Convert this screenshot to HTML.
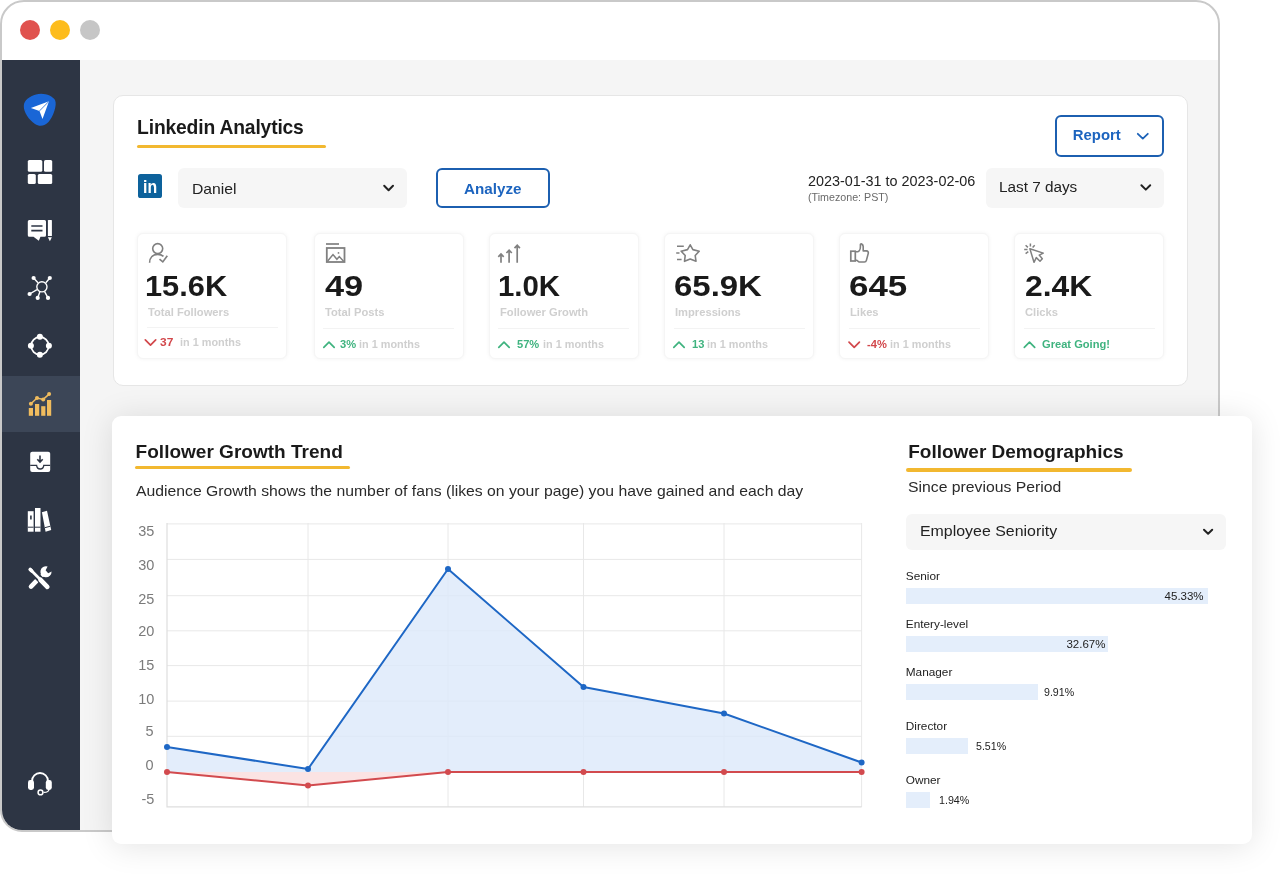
<!DOCTYPE html>
<html lang="en">
<head>
<meta charset="utf-8">
<title>Linkedin Analytics</title>
<style>
*{box-sizing:border-box;margin:0;padding:0}
html,body{width:1282px;height:874px;background:#fff;overflow:hidden}
body{position:relative;font-family:"Liberation Sans",sans-serif;color:#1c1c1c}
.abs{position:absolute}
.win{position:absolute;left:0;top:0;width:1220px;height:832px;border:2px solid #c9c9c9;border-radius:24px 24px 4px 22px;background:#fff;overflow:hidden}
.dot{position:absolute;top:18px;width:20px;height:20px;border-radius:50%}
.side{position:absolute;left:0;top:58px;width:78px;height:772px;background:#2d3544}
.main{position:absolute;left:78px;top:58px;width:1140px;height:772px;background:#f5f5f5}
.active{position:absolute;left:0;top:316px;width:78px;height:56px;background:#3c4657}
.card{position:absolute;background:#fff;border:1.3px solid #e6e6e6;border-radius:10px}
.ul{position:absolute;height:3px;background:#f2b830;border-radius:2px}
.sel{position:absolute;background:#f6f6f6;border-radius:6px}
.t{position:absolute;white-space:nowrap;line-height:20px}
.stat{position:absolute;top:232.6px;width:150px;height:126px;background:#fff;border:1.5px solid #f5f5f5;border-radius:6px;box-shadow:0 0 4px rgba(0,0,0,.05)}
.hr{position:absolute;height:1.4px;background:#f3f3f3}
.low{position:absolute;left:112px;top:416px;width:1140px;height:428px;background:#fff;border-radius:9px;box-shadow:0 2px 32px rgba(0,0,0,.115)}
.bar{position:absolute;left:906px;height:16px;background:#e4eefb}
.btn{position:absolute;border:2px solid #1c5fb0;border-radius:6px;background:#fff}
</style>
</head>
<body>
<div class="win">
  <div class="dot" style="left:18px;background:#e0524e"></div>
  <div class="dot" style="left:48px;background:#fdbc1c"></div>
  <div class="dot" style="left:78px;background:#c6c6c6"></div>
  <div class="main"></div>
  <div class="side"><div class="active"></div></div>
</div>
<div class="card" style="left:113px;top:95px;width:1075px;height:290.5px"></div>
<div class="t" style="left:137.1px;top:117.61px;font-size:19.3px;color:#1a1a1a;font-weight:bold;letter-spacing:-0.17px;">Linkedin Analytics</div>
<div class="ul" style="left:137px;top:144.5px;width:189px;height:3px"></div>
<div class="sel" style="left:178px;top:168px;width:229px;height:40px"></div>
<div class="t" style="left:192.2px;top:178.94px;font-size:14.6px;color:#222;transform:scaleX(1.078);transform-origin:0 50%;">Daniel</div>
<div class="btn" style="left:436px;top:167.8px;width:114px;height:40px"></div>
<div class="t" style="left:463.7px;top:178.88px;font-size:14.5px;color:#1c64bf;font-weight:bold;transform:scaleX(1.05);transform-origin:0 50%;">Analyze</div>
<div class="btn" style="left:1055px;top:115px;width:109px;height:41.5px"></div>
<div class="t" style="left:1072.8px;top:124.84px;font-size:14.9px;color:#1c64bf;font-weight:bold;">Report</div>
<div class="t" style="left:808px;top:171.41px;font-size:14.4px;color:#222;">2023-01-31 to 2023-02-06</div>
<div class="t" style="left:808px;top:187.29px;font-size:10.7px;color:#6a6a6a;">(Timezone: PST)</div>
<div class="sel" style="left:986px;top:168px;width:178px;height:40px"></div>
<div class="t" style="left:999px;top:177.30px;font-size:15.3px;color:#222;">Last 7 days</div>
<div class="stat" style="left:137px"></div>
<div class="hr" style="left:146.5px;top:326.7px;width:131px"></div>
<div class="t" style="left:144.716px;top:275.94px;font-size:29.6px;color:#1a1a1a;font-weight:bold;transform:scaleX(1.04);transform-origin:0 50%;">15.6K</div>
<div class="t" style="left:147.9px;top:302.70px;font-size:10.4px;color:#cfcfcf;font-weight:bold;transform:scaleX(1.075);transform-origin:0 50%;">Total Followers</div>
<div class="t" style="left:160.2px;top:332.70px;font-size:10.4px;color:#d2474b;font-weight:bold;transform:scaleX(1.15);transform-origin:0 50%;">37</div>
<div class="t" style="left:180.2px;top:332.73px;font-size:10.3px;color:#cfcfcf;font-weight:bold;transform:scaleX(1.055);transform-origin:0 50%;">in 1 months</div>
<div class="stat" style="left:313.6px"></div>
<div class="hr" style="left:323.1px;top:327.8px;width:131px"></div>
<div class="t" style="left:324.784px;top:275.94px;font-size:29.6px;color:#1a1a1a;font-weight:bold;transform:scaleX(1.16);transform-origin:0 50%;">49</div>
<div class="t" style="left:325px;top:302.70px;font-size:10.4px;color:#cfcfcf;font-weight:bold;transform:scaleX(1.075);transform-origin:0 50%;">Total Posts</div>
<div class="t" style="left:339.6px;top:334.90px;font-size:10.4px;color:#3fb37f;font-weight:bold;transform:scaleX(1.07);transform-origin:0 50%;">3%</div>
<div class="t" style="left:358.8px;top:334.93px;font-size:10.3px;color:#cfcfcf;font-weight:bold;transform:scaleX(1.055);transform-origin:0 50%;">in 1 months</div>
<div class="stat" style="left:488.8px"></div>
<div class="hr" style="left:498.3px;top:327.8px;width:131px"></div>
<div class="t" style="left:498.014px;top:275.94px;font-size:29.6px;color:#1a1a1a;font-weight:bold;transform:scaleX(0.993);transform-origin:0 50%;">1.0K</div>
<div class="t" style="left:500px;top:302.70px;font-size:10.4px;color:#cfcfcf;font-weight:bold;transform:scaleX(1.075);transform-origin:0 50%;">Follower Growth</div>
<div class="t" style="left:516.6px;top:334.90px;font-size:10.4px;color:#3fb37f;font-weight:bold;transform:scaleX(1.07);transform-origin:0 50%;">57%</div>
<div class="t" style="left:542.5px;top:334.93px;font-size:10.3px;color:#cfcfcf;font-weight:bold;transform:scaleX(1.055);transform-origin:0 50%;">in 1 months</div>
<div class="stat" style="left:664px"></div>
<div class="hr" style="left:673.5px;top:327.8px;width:131px"></div>
<div class="t" style="left:673.887px;top:275.94px;font-size:29.6px;color:#1a1a1a;font-weight:bold;transform:scaleX(1.113);transform-origin:0 50%;">65.9K</div>
<div class="t" style="left:675px;top:302.70px;font-size:10.4px;color:#cfcfcf;font-weight:bold;transform:scaleX(1.075);transform-origin:0 50%;">Impressions</div>
<div class="t" style="left:691.6px;top:334.90px;font-size:10.4px;color:#3fb37f;font-weight:bold;transform:scaleX(1.07);transform-origin:0 50%;">13</div>
<div class="t" style="left:706.6px;top:334.93px;font-size:10.3px;color:#cfcfcf;font-weight:bold;transform:scaleX(1.055);transform-origin:0 50%;">in 1 months</div>
<div class="stat" style="left:839px"></div>
<div class="hr" style="left:848.5px;top:327.8px;width:131px"></div>
<div class="t" style="left:848.82px;top:275.94px;font-size:29.6px;color:#1a1a1a;font-weight:bold;transform:scaleX(1.18);transform-origin:0 50%;">645</div>
<div class="t" style="left:850px;top:302.70px;font-size:10.4px;color:#cfcfcf;font-weight:bold;transform:scaleX(1.075);transform-origin:0 50%;">Likes</div>
<div class="t" style="left:867px;top:334.90px;font-size:10.4px;color:#d2474b;font-weight:bold;transform:scaleX(1.07);transform-origin:0 50%;">-4%</div>
<div class="t" style="left:889.6px;top:334.93px;font-size:10.3px;color:#cfcfcf;font-weight:bold;transform:scaleX(1.055);transform-origin:0 50%;">in 1 months</div>
<div class="stat" style="left:1014px"></div>
<div class="hr" style="left:1023.5px;top:327.8px;width:131px"></div>
<div class="t" style="left:1024.755px;top:275.94px;font-size:29.6px;color:#1a1a1a;font-weight:bold;transform:scaleX(1.075);transform-origin:0 50%;">2.4K</div>
<div class="t" style="left:1025px;top:302.70px;font-size:10.4px;color:#cfcfcf;font-weight:bold;transform:scaleX(1.075);transform-origin:0 50%;">Clicks</div>
<div class="t" style="left:1042px;top:334.90px;font-size:10.4px;color:#3fb37f;font-weight:bold;transform:scaleX(1.07);transform-origin:0 50%;">Great Going!</div>
<div class="low"></div>
<div class="t" style="left:135.6px;top:441.60px;font-size:19.05px;color:#1a1a1a;font-weight:bold;">Follower Growth Trend</div>
<div class="ul" style="left:134.6px;top:465.6px;width:215px;height:3.8px"></div>
<div class="t" style="left:136px;top:481.40px;font-size:15px;color:#2a2a2a;transform:scaleX(1.05);transform-origin:0 50%;">Audience Growth shows the number of fans (likes on your page) you have gained and each day</div>
<div class="t" style="left:908.2px;top:441.62px;font-size:19px;color:#1a1a1a;font-weight:bold;">Follower Demographics</div>
<div class="ul" style="left:906px;top:468.2px;width:225.8px;height:3.6px"></div>
<div class="t" style="left:907.9px;top:477.03px;font-size:15.2px;color:#2a2a2a;transform:scaleX(1.038);transform-origin:0 50%;">Since previous Period</div>
<div class="sel" style="left:906px;top:514.4px;width:320px;height:35.5px"></div>
<div class="t" style="left:919.6px;top:521.00px;font-size:15px;color:#222;transform:scaleX(1.061);transform-origin:0 50%;">Employee Seniority</div>
<div class="t" style="left:905.8px;top:566.31px;font-size:11.8px;color:#222;">Senior</div>
<div class="bar" style="top:588px;width:302.2px"></div>
<div class="t" style="right:78.40000000000009px;top:586.02px;font-size:11.5px;color:#222;">45.33%</div>
<div class="t" style="left:905.8px;top:614.31px;font-size:11.8px;color:#222;">Entery-level</div>
<div class="bar" style="top:636px;width:202px"></div>
<div class="t" style="right:176.5999999999999px;top:634.02px;font-size:11.5px;color:#222;">32.67%</div>
<div class="t" style="left:905.8px;top:662.31px;font-size:11.8px;color:#222;">Manager</div>
<div class="bar" style="top:684px;width:132px"></div>
<div class="t" style="left:1043.6px;top:682.02px;font-size:11.5px;color:#222;transform:scaleX(0.925);transform-origin:0 50%;">9.91%</div>
<div class="t" style="left:905.8px;top:716.11px;font-size:11.8px;color:#222;">Director</div>
<div class="bar" style="top:738px;width:62px"></div>
<div class="t" style="left:976px;top:736.02px;font-size:11.5px;color:#222;transform:scaleX(0.925);transform-origin:0 50%;">5.51%</div>
<div class="t" style="left:905.8px;top:770.01px;font-size:11.8px;color:#222;">Owner</div>
<div class="bar" style="top:792px;width:24px"></div>
<div class="t" style="left:939.4px;top:790.02px;font-size:11.5px;color:#222;transform:scaleX(0.93);transform-origin:0 50%;">1.94%</div>
<!-- icons -->
<svg class="abs" style="left:0;top:0" width="1282" height="874" viewBox="0 0 1282 874" fill="none">
  <!-- logo -->
  <path d="M36 94.5C43 92 52.5 95.5 55 100C57.5 105 53 117 48.5 122C45 126 39.5 127 35 124C29 120 23.5 112 23.8 106C24 100 29.5 96.5 36 94.5Z" fill="#1a66d6"/>
  <path d="M49 101.3L30.9 108.1L39.5 110.9L42.5 119.1Z" fill="#fff"/>
  <path d="M49 101.3L39.5 110.9" stroke="#1a66d6" stroke-width=".8"/>
  <!-- grid -->
  <g fill="#fff">
    <rect x="27.8" y="160" width="14.5" height="11.8" rx="1.6"/>
    <rect x="44" y="160" width="8.2" height="11.8" rx="1.6"/>
    <rect x="27.8" y="174" width="8" height="10" rx="1.6"/>
    <rect x="37.8" y="174" width="14.4" height="10" rx="1.6"/>
  </g>
  <!-- chat + pencil -->
  <path d="M29.3 220H44.5Q46 220 46 221.5V235.3Q46 236.8 44.5 236.8H40.5L38.8 240.8L33.5 236.8H29.3Q27.8 236.8 27.8 235.3V221.5Q27.8 220 29.3 220Z" fill="#fff"/>
  <path d="M31.3 226H42.5M31.3 230.6H42.5" stroke="#2d3544" stroke-width="1.7"/>
  <path d="M47.9 220.6Q47.9 220 48.5 220H51.3Q51.9 220 51.9 220.6V236H47.9Z" fill="#fff"/>
  <path d="M47.9 237.2H51.9L49.9 241.2Z" fill="#fff"/>
  <!-- network -->
  <g stroke="#fff" stroke-width="1.4">
    <circle cx="41.9" cy="286.8" r="5.1"/>
    <path d="M38 282.8L33.6 278M45.8 282.8L49.8 278M37 289.6L29.6 294M39.8 292L37.7 297.9M44.6 291.6L48 297.9"/>
  </g>
  <g fill="#fff"><circle cx="33.6" cy="278" r="2.1"/><circle cx="49.8" cy="278" r="2.1"/><circle cx="29.6" cy="294" r="2.1"/><circle cx="37.7" cy="297.9" r="2.1"/><circle cx="48" cy="297.9" r="2.1"/></g>
  <!-- ring -->
  <circle cx="39.9" cy="345.8" r="8.8" stroke="#fff" stroke-width="1.8"/>
  <g fill="#fff"><circle cx="39.9" cy="336.8" r="3"/><circle cx="39.9" cy="354.8" r="3"/><circle cx="30.9" cy="345.8" r="3"/><circle cx="48.9" cy="345.8" r="3"/></g>
  <!-- chart (active) -->
  <g fill="#f0bc5e">
    <rect x="28.8" y="408" width="4.2" height="7.8"/><rect x="35" y="404" width="4.2" height="11.8"/><rect x="41.2" y="406.2" width="4.2" height="9.6"/><rect x="47" y="400" width="4.2" height="15.8"/>
    <circle cx="30.9" cy="403.8" r="2"/><circle cx="37" cy="398" r="2"/><circle cx="43.2" cy="399.4" r="2"/><circle cx="49.1" cy="394.1" r="2"/>
  </g>
  <path d="M30.9 403.8L37 398L43.2 399.4L49.1 394.1" stroke="#f0bc5e" stroke-width="1.5"/>
  <!-- inbox -->
  <rect x="30.2" y="451.8" width="20" height="20.3" rx="2" fill="#fff"/>
  <path d="M40 455.6V461.6M37.3 459.2L40 462L42.7 459.2" stroke="#2d3544" stroke-width="1.6"/>
  <path d="M30.2 465.4H36.6Q37 469 40.2 469Q43.4 469 43.8 465.4H50.2" stroke="#2d3544" stroke-width="1.3"/>
  <!-- books -->
  <g fill="#fff">
    <rect x="27.8" y="511.2" width="5.8" height="20.5"/>
    <rect x="35" y="508" width="5.5" height="23.7"/>
    <path d="M41.9 512.2L47 510.8L51.2 530L45.6 531.7Z"/>
  </g>
  <path d="M27.8 527.2H33.6M35 527.2H40.5M44.9 527.7L50.4 526.2" stroke="#2d3544" stroke-width="1"/>
  <rect x="30.1" y="515.5" width="1.6" height="4" fill="#2d3544"/>
  <!-- tools -->
  <path d="M47.6 566.4A5.6 5.6 0 1 0 51.6 571.6L48.2 573.2L45.6 570.2Z" fill="#fff"/>
  <g stroke="#fff" stroke-linecap="round">
    <path d="M31 586.6L36.3 581.2" stroke-width="4.6"/>
    <path d="M41.6 576L44.5 573" stroke-width="3.4" stroke-linecap="butt"/>
  </g>
  <path d="M32 571.2L47.3 586.8" stroke="#2d3544" stroke-width="6.4" stroke-linecap="butt"/>
  <g stroke="#fff" stroke-linecap="round">
    <path d="M30.4 569.6L40.5 579.8" stroke-width="2.8"/>
    <path d="M30.2 569.4L31.6 570.8" stroke-width="3.6"/>
    <path d="M40.5 579.8L47.3 586.8" stroke-width="4.6"/>
  </g>
  <!-- headset -->
  <path d="M32 782.5V781A8 8 0 0 1 48 781V782.5" stroke="#fff" stroke-width="1.8"/>
  <rect x="28" y="780" width="6" height="10" rx="2.4" fill="#fff"/>
  <rect x="45.8" y="780" width="6" height="10" rx="2.4" fill="#fff"/>
  <path d="M49 789.5Q48.5 792.6 43.5 792.4" stroke="#fff" stroke-width="1.3"/>
  <circle cx="40.5" cy="792.4" r="2.4" stroke="#fff" stroke-width="1.5"/>

  <!-- linkedin -->
  <rect x="138" y="174" width="24" height="24" rx="2.6" fill="#0d629c"/>

  <!-- chevrons -->
  <g stroke="#222" stroke-width="2" stroke-linecap="round" stroke-linejoin="round">
    <path d="M384.2 185.8L388.6 190.2L393 185.8"/>
    <path d="M1141.4 185.2L1145.8 189.6L1150.2 185.2"/>
    <path d="M1204 529.8L1208.1 533.8L1212.2 529.8"/>
  </g>
  <path d="M1137.8 133.8L1142.8 138.6L1147.8 133.8" stroke="#1c62b8" stroke-width="1.8" stroke-linecap="round" stroke-linejoin="round"/>
<g stroke-width="1.7" stroke-linecap="round" stroke-linejoin="round"><path d="M145.3 339.90000000000003L150.5 345.1L155.7 339.90000000000003" stroke="#d2474b"/><path d="M323.8 347.3L329 342.1L334.2 347.3" stroke="#3fb37f"/><path d="M498.8 347.3L504 342.1L509.2 347.3" stroke="#3fb37f"/><path d="M673.8 347.3L679 342.1L684.2 347.3" stroke="#3fb37f"/><path d="M849.0 342.1L854.2 347.3L859.4000000000001 342.1" stroke="#d2474b"/><path d="M1024.3 347.3L1029.5 342.1L1034.7 347.3" stroke="#3fb37f"/></g>

  <g stroke="#808080" stroke-width="1.6" fill="none">
    <!-- user check -->
    <circle cx="157.7" cy="248.6" r="5" />
    <path d="M149.6 262.8C149.6 257.6 153 254.4 157.7 254.4C160 254.4 161.9 255 163.5 256.3"/>
    <path d="M159.5 259.2L162.8 261.9L167.3 255.8" stroke-width="1.7"/>
    <!-- image -->
    <path d="M326 244H339" stroke-width="1.7"/>
    <rect x="326.8" y="248" width="17.7" height="14" stroke-width="1.8"/>
    <path d="M327.7 261L333 254.6L336.9 259.3L339.3 256.6L343.8 261.4" stroke-width="1.5"/>
    <!-- arrows -->
    <g stroke-width="1.7">
      <path d="M501 262.8V254.4M498.3 256.8L501 254L503.7 256.8"/>
      <path d="M509.1 262.8V250.6M506.4 253L509.1 250.2L511.8 253"/>
      <path d="M517.2 262.8V245.7M514.5 248.1L517.2 245.3L519.9 248.1"/>
    </g>
    <!-- star -->
    <path d="M690.2 244.8L692.9 249.6L699.2 251.2L695.2 255.5L696 261.3L690.2 259L684.5 261.3L685.2 255.5L681.2 251.2L687.5 249.6Z" stroke-linejoin="round"/>
    <path d="M677 246.2H683.8M676.2 252.9H679.5M677 259.5H681.6" stroke-width="1.5"/>
    <!-- thumb -->
    <rect x="850.8" y="251.2" width="4.5" height="9.8" stroke-width="1.7"/>
    <path d="M855.3 251.8H857.6C859.4 251.4 860.4 248.6 860.4 246.8V244.6C860.4 243.4 863.2 243.4 863.2 246.6V250.9H866.4C868 250.9 868.6 252.2 868.2 253.6L866.4 260.4C866.1 261.6 865.4 262 864.4 262H859.4C858 262 857.6 260.2 856.6 260.2H855.3" stroke-linejoin="round"/>
    <!-- cursor click -->
    <path d="M1029.9 248.8L1043.3 253.1L1039.2 255.1L1042.3 258.7L1040 261.2L1036.3 257.6L1034 262.3Z" stroke-linejoin="round" stroke-width="1.5"/>
    <path d="M1030.4 243.4V246.4M1025.6 245.3L1027.9 247.4M1034.7 245.3L1032.6 247.5M1024.2 249.5H1027.5M1025.6 253.7L1028.3 251.6" stroke-width="1.5"/>
  </g>
  <circle cx="338.5" cy="252.9" r=".9" fill="#808080"/>

</svg>
<div class="t" style="left:142.6px;top:176.52px;font-size:18.4px;color:#fff;font-weight:bold;transform:scaleX(0.86);transform-origin:0 50%;">in</div>
<!-- chart -->
<svg class="abs" style="left:0;top:0" width="1282" height="874" viewBox="0 0 1282 874">
  <g id="chart">
    <g stroke="#e8e8e8" stroke-width="1" fill="none">
      <path d="M167 523.9H861.6M167 559.4H861.6M167 595.7H861.6M167 630.8H861.6M167 665.6H861.6M167 701.1H861.6M167 736.3H861.6"/>
      <path d="M308 523V807M448 523V807M583.5 523V807M724 523V807M861.6 523V807"/>
      <path d="M167 523V806.8H861.6" stroke="#dedede" stroke-width="1.2"/>
    </g>
    <path d="M167 747L308 769L448 569L583.5 687L724 713.5L861.6 762.5V772H167Z" fill="#dce9fa" fill-opacity=".8"/>
    <path d="M167 772L308 785.5L448 772Z" fill="#fbe3e3"/>
    <path d="M167 747L308 769L448 569L583.5 687L724 713.5L861.6 762.5" fill="none" stroke="#1e67c5" stroke-width="2" stroke-linejoin="round"/>
    <path d="M167 772L308 785.5L448 772H861.6" fill="none" stroke="#d24a4e" stroke-width="2" stroke-linejoin="round"/>
    <g fill="#1e67c5"><circle cx="167" cy="747" r="3"/><circle cx="308" cy="769" r="3"/><circle cx="448" cy="569" r="3"/><circle cx="583.5" cy="687" r="3"/><circle cx="724" cy="713.5" r="3"/><circle cx="861.6" cy="762.5" r="3"/></g>
    <g fill="#d24a4e"><circle cx="167" cy="772" r="3"/><circle cx="308" cy="785.5" r="3"/><circle cx="448" cy="772" r="3"/><circle cx="583.5" cy="772" r="3"/><circle cx="724" cy="772" r="3"/><circle cx="861.6" cy="772" r="3"/></g>
  </g>
</svg>
<div class="t" style="right:1128.1px;top:521.62px;font-size:13.8px;color:#7b7b7b;transform:scaleX(1.05);transform-origin:100% 50%;">35</div>
<div class="t" style="right:1128.1px;top:556.12px;font-size:13.8px;color:#7b7b7b;transform:scaleX(1.05);transform-origin:100% 50%;">30</div>
<div class="t" style="right:1128.1px;top:589.72px;font-size:13.8px;color:#7b7b7b;transform:scaleX(1.05);transform-origin:100% 50%;">25</div>
<div class="t" style="right:1128.1px;top:622.02px;font-size:13.8px;color:#7b7b7b;transform:scaleX(1.05);transform-origin:100% 50%;">20</div>
<div class="t" style="right:1128.1px;top:656.02px;font-size:13.8px;color:#7b7b7b;transform:scaleX(1.05);transform-origin:100% 50%;">15</div>
<div class="t" style="right:1128.1px;top:690.12px;font-size:13.8px;color:#7b7b7b;transform:scaleX(1.05);transform-origin:100% 50%;">10</div>
<div class="t" style="right:1128.1px;top:721.92px;font-size:13.8px;color:#7b7b7b;transform:scaleX(1.05);transform-origin:100% 50%;">5</div>
<div class="t" style="right:1128.1px;top:756.02px;font-size:13.8px;color:#7b7b7b;transform:scaleX(1.05);transform-origin:100% 50%;">0</div>
<div class="t" style="right:1128.1px;top:790.42px;font-size:13.8px;color:#7b7b7b;transform:scaleX(1.05);transform-origin:100% 50%;">-5</div>
</body>
</html>
